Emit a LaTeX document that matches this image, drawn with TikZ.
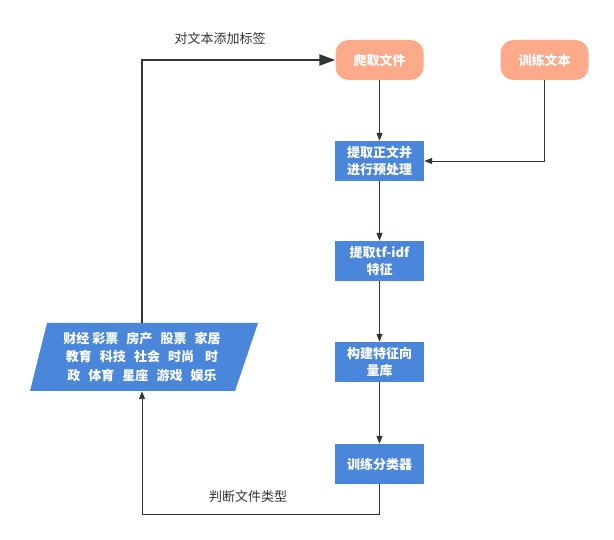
\documentclass[tikz,border=0pt]{standalone}
\usepackage{fontspec}
\setmainfont{Noto Sans CJK SC}
\usetikzlibrary{arrows.meta}
\definecolor{peach}{RGB}{253,170,138}
\definecolor{flowblue}{RGB}{74,134,217}
\definecolor{linegray}{RGB}{51,51,51}

\begin{document}
\begin{tikzpicture}[x=1pt, y=-1pt]
\tikzstyle{every node}=[font=\fontsize{13}{17}\selectfont];
\tikzstyle{src}=[fill=peach, rounded corners=13pt, minimum width=88pt, minimum height=40pt, text=white, inner sep=0pt, font=\fontsize{13}{17}\selectfont\bfseries];
\tikzstyle{proc}=[fill=flowblue, minimum width=89pt, minimum height=40pt, text=white, align=center, inner sep=0pt, font=\fontsize{13}{17}\selectfont\bfseries];
\tikzstyle{edge}=[draw=linegray, line width=0.9pt, -{Triangle[length=8pt, width=6pt]}];
\useasboundingbox (0,0) rectangle (614,540);
\node[src] (crawl) at (379.5, 60) {爬取文件};
\node[src] (train) at (544.5, 60) {训练文本};
\node[proc] (pre) at (379.5, 161) {提取正文并\\进行预处理};
\node[proc] (tfidf) at (379.5, 261) {提取tf-idf\\特征};
\node[proc] (vec) at (379.5, 362) {构建特征向\\量库};
\node[proc] (clf) at (379.5, 464) {训练分类器};
\fill[flowblue] (47,323) -- (258,323) -- (235,391) -- (30,391) -- cycle;
\node[minimum width=205pt, minimum height=68pt, text=white, align=center, inner sep=0pt, font=\fontsize{13}{18.5}\selectfont\bfseries] (cat) at (142, 357)
  {财经 彩票\ \ \,房产\ \ \,股票\ \ \,家居\\教育\ \ \,科技\ \ \,社会\ \ \,时尚\ \ \ \,时\\政\ \ \,体育\ \ \,星座\ \ \,游戏\ \ \,娱乐};
\coordinate (tl) at (142, 60);
\coordinate (br) at (379.5, 514);
\coordinate (bl) at (142, 514);
\draw[edge] (crawl) -- (pre);
\draw[edge] (pre) -- (tfidf);
\draw[edge] (tfidf) -- (vec);
\draw[edge] (vec) -- (clf);
\draw[edge] (train) |- (pre);
\draw[edge, line width=2pt, -{Triangle[length=16pt, width=11pt]}] (cat.north) -- (tl) -- (crawl);
\draw[edge] (clf) -- (br) -- (bl) -- (cat.south);
\node[text=linegray] (addlbl) at (220, 39) {对文本添加标签};
\node[text=linegray] (judge) at (248, 497) {判断文件类型};
\end{tikzpicture}
\end{document}
